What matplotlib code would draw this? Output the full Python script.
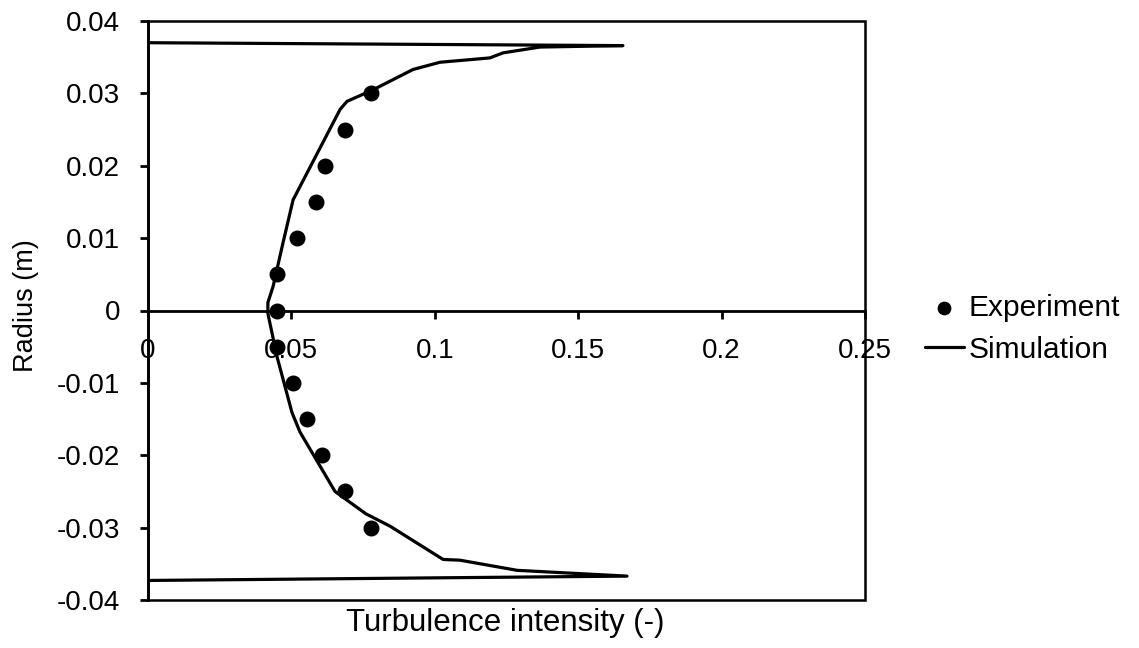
import matplotlib.pyplot as plt
from matplotlib.patches import Rectangle

plt.rcParams["font.family"] = ["Liberation Sans", "DejaVu Sans"]

# experiment points
exp_x = [0.0778, 0.0687, 0.0617, 0.0586, 0.0520, 0.0450, 0.0450,
         0.0450, 0.0505, 0.0553, 0.0606, 0.0686, 0.0777]
exp_r = [0.030, 0.025, 0.020, 0.015, 0.010, 0.005, 0.0,
         -0.005, -0.010, -0.015, -0.020, -0.025, -0.030]

# simulation profile (traced from top wall round to bottom wall)
sim_x = [0.0, 0.1656, 0.1367, 0.1238, 0.1192, 0.1018, 0.0924, 0.0785,
         0.0694, 0.0670, 0.0506, 0.0471, 0.0436, 0.0418, 0.0418, 0.0420,
         0.0450, 0.0502, 0.0530, 0.0652, 0.0760, 0.0844, 0.1029, 0.1088,
         0.1287, 0.1670, 0.0]
sim_r = [0.0370, 0.0366, 0.0364, 0.0356, 0.0349, 0.0343, 0.0333, 0.0305,
         0.0289, 0.0278, 0.0153, 0.0094, 0.0033, 0.0011, -0.0003, -0.0008,
         -0.0064, -0.0141, -0.0168, -0.0250, -0.0281, -0.0298, -0.0344, -0.0345,
         -0.0359, -0.0367, -0.0373]

x_ticks = [0, 0.05, 0.1, 0.15, 0.2, 0.25]
x_labels = ["0", "0.05", "0.1", "0.15", "0.2", "0.25"]
y_ticks = [-0.04, -0.03, -0.02, -0.01, 0, 0.01, 0.02, 0.03, 0.04]
y_labels = ["-0.04", "-0.03", "-0.02", "-0.01", "0", "0.01", "0.02", "0.03", "0.04"]

W, H = 1139, 648
fig = plt.figure(figsize=(W / 100, H / 100), dpi=100)
ax = fig.add_axes([148 / W, 1 - 600 / H, (865 - 148) / W, (600 - 21) / H])

ax.plot(sim_x, sim_r, color="black", lw=2.3, solid_joinstyle="round",
        solid_capstyle="round", label="Simulation", zorder=3)
ax.scatter(exp_x, exp_r, s=110, color="black", label="Experiment", zorder=4)

ax.set_xlim(0, 0.25)
ax.set_ylim(-0.04, 0.04)

for s in ["top", "right"]:
    ax.spines[s].set_visible(False)
ax.spines["bottom"].set_position(("data", 0))
ax.spines["bottom"].set_linewidth(2)
ax.spines["left"].set_linewidth(2)
ax.add_patch(Rectangle((0, 0), 1, 1, transform=ax.transAxes, fill=False,
                       edgecolor="black", lw=1.8, clip_on=False, zorder=1))

ax.set_xticks(x_ticks)
ax.set_xticklabels(x_labels)
ax.set_yticks(y_ticks)
ax.set_yticklabels(y_labels)
ax.tick_params(axis="both", direction="out", length=6, width=2, labelsize=20,
               colors="black", pad=14)
for lbl in ax.get_xticklabels():
    lbl.set_zorder(2)

fig.text(505 / W, 1 - 623 / H, "Turbulence intensity (-)", ha="center",
         va="center", fontsize=22.5)
fig.text(26 / W, 1 - 306 / H, "Radius (m)", ha="center", va="center",
         rotation=90, fontsize=19.5)

h, l = ax.get_legend_handles_labels()
ax.legend([h[1], h[0]], [l[1], l[0]], loc="center left",
          bbox_to_anchor=(925 / W, 1 - 329 / H), bbox_transform=fig.transFigure,
          frameon=False, fontsize=21.5, handlelength=1.3, handletextpad=0.17,
          labelspacing=0.45, borderpad=0, borderaxespad=0, markerscale=0.85)

fig.savefig("out.png", dpi=100)
